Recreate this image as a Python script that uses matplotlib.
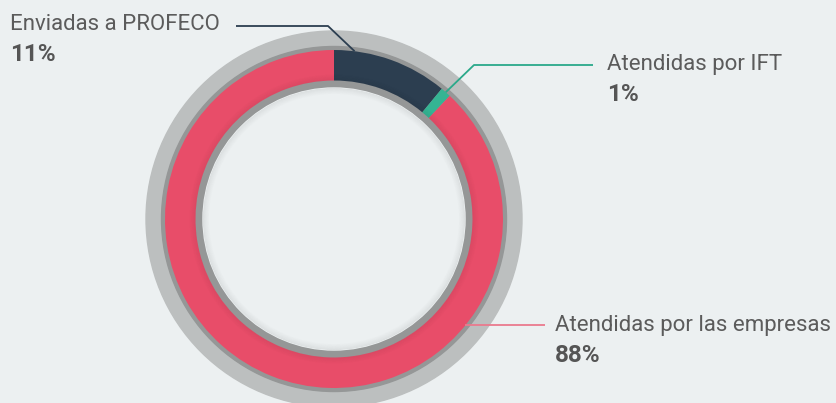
import numpy as np
import matplotlib
matplotlib.use("Agg")
import matplotlib.pyplot as plt
from matplotlib.patches import Circle, Wedge

# ---- data ----
categories = ["Enviadas a PROFECO", "Atendidas por IFT", "Atendidas por las empresas"]
values = [11, 1, 88]
pct_labels = ["11%", "1%", "88%"]
colors = ["#2c3e50", "#35b493", "#e84d69"]

# ---- layout (pixel space, y measured from bottom) ----
W, H = 837, 403
BG = "#ecf0f1"
cx, cy = 334, H - 219
R_light, R_dark, R_pie, R_pie_in, R_hole = 188, 172.5, 169, 138.5, 131

fig = plt.figure(figsize=(W / 100, H / 100), dpi=100, facecolor=BG)
ax = fig.add_axes([0, 0, 1, 1])
ax.set_facecolor(BG)

ax.add_patch(Circle((cx, cy), R_light, color="#bcbfbf", zorder=1))
ax.add_patch(Circle((cx, cy), R_dark, color="#959797", zorder=1))
ax.pie(values, colors=colors, startangle=90, counterclock=False,
       center=(cx, cy), radius=R_pie,
       wedgeprops=dict(width=R_pie - R_pie_in, edgecolor="none", zorder=2))
# subtle shading at inner edge of the coloured ring
for i in range(5):
    ax.add_patch(Wedge((cx, cy), R_pie_in + 1.2 * (i + 1), 0, 360, width=1.2,
                       color="black", alpha=0.05 * (1 - i / 5), lw=0, zorder=2.5))
# hole with soft inner shadow
ax.add_patch(Circle((cx, cy), R_hole, color=BG, zorder=3))
for i in range(6):
    ax.add_patch(Wedge((cx, cy), R_hole - 1.0 * i, 0, 360, width=1.0,
                       color="#6f7272", alpha=0.12 * (1 - i / 6), lw=0, zorder=3.5))

ax.set_xlim(0, W)
ax.set_ylim(0, H)
ax.set_aspect("equal")
ax.axis("off")

# ---- leader lines & labels ----
def ring_pt(angle_deg, r):
    # angle measured clockwise from 12 o'clock
    a = np.deg2rad(angle_deg)
    return cx + r * np.sin(a), cy + r * np.cos(a)

line_cols = ["#2c3e50", "#2aa98a", "#ea7a8e"]
anchor_ang = [7, 41.4, 129]
elbows = [(328, H - 26), (474, H - 65), None]
ends = [(236, H - 26), (593, H - 65), (545, H - 326)]
text_pos = [(10, H - 24), (607, H - 64), (555, H - 326)]

font = ["Roboto", "DejaVu Sans"]
for i in range(3):
    ax0, ay0 = ring_pt(anchor_ang[i], R_pie)
    xs, ys = [ax0], [ay0]
    if elbows[i] is not None:
        xs.append(elbows[i][0]); ys.append(elbows[i][1])
        xs.append(ends[i][0]); ys.append(ends[i][1])
    else:
        xs.append(ends[i][0]); ys.append(ay0)
    ax.plot(xs, ys, color=line_cols[i], lw=1.3, zorder=5, solid_capstyle="butt")
    tx, ty = text_pos[i]
    ax.text(tx, ty, categories[i], fontsize=16, color="#5b5b5b",
            family=font, va="center", ha="left", zorder=6)
    ax.text(tx, ty - 30, pct_labels[i], fontsize=17.5, color="#555555",
            family=font, fontweight="bold", va="center", ha="left", zorder=6)

fig.savefig("out.png", dpi=100, facecolor=BG)
